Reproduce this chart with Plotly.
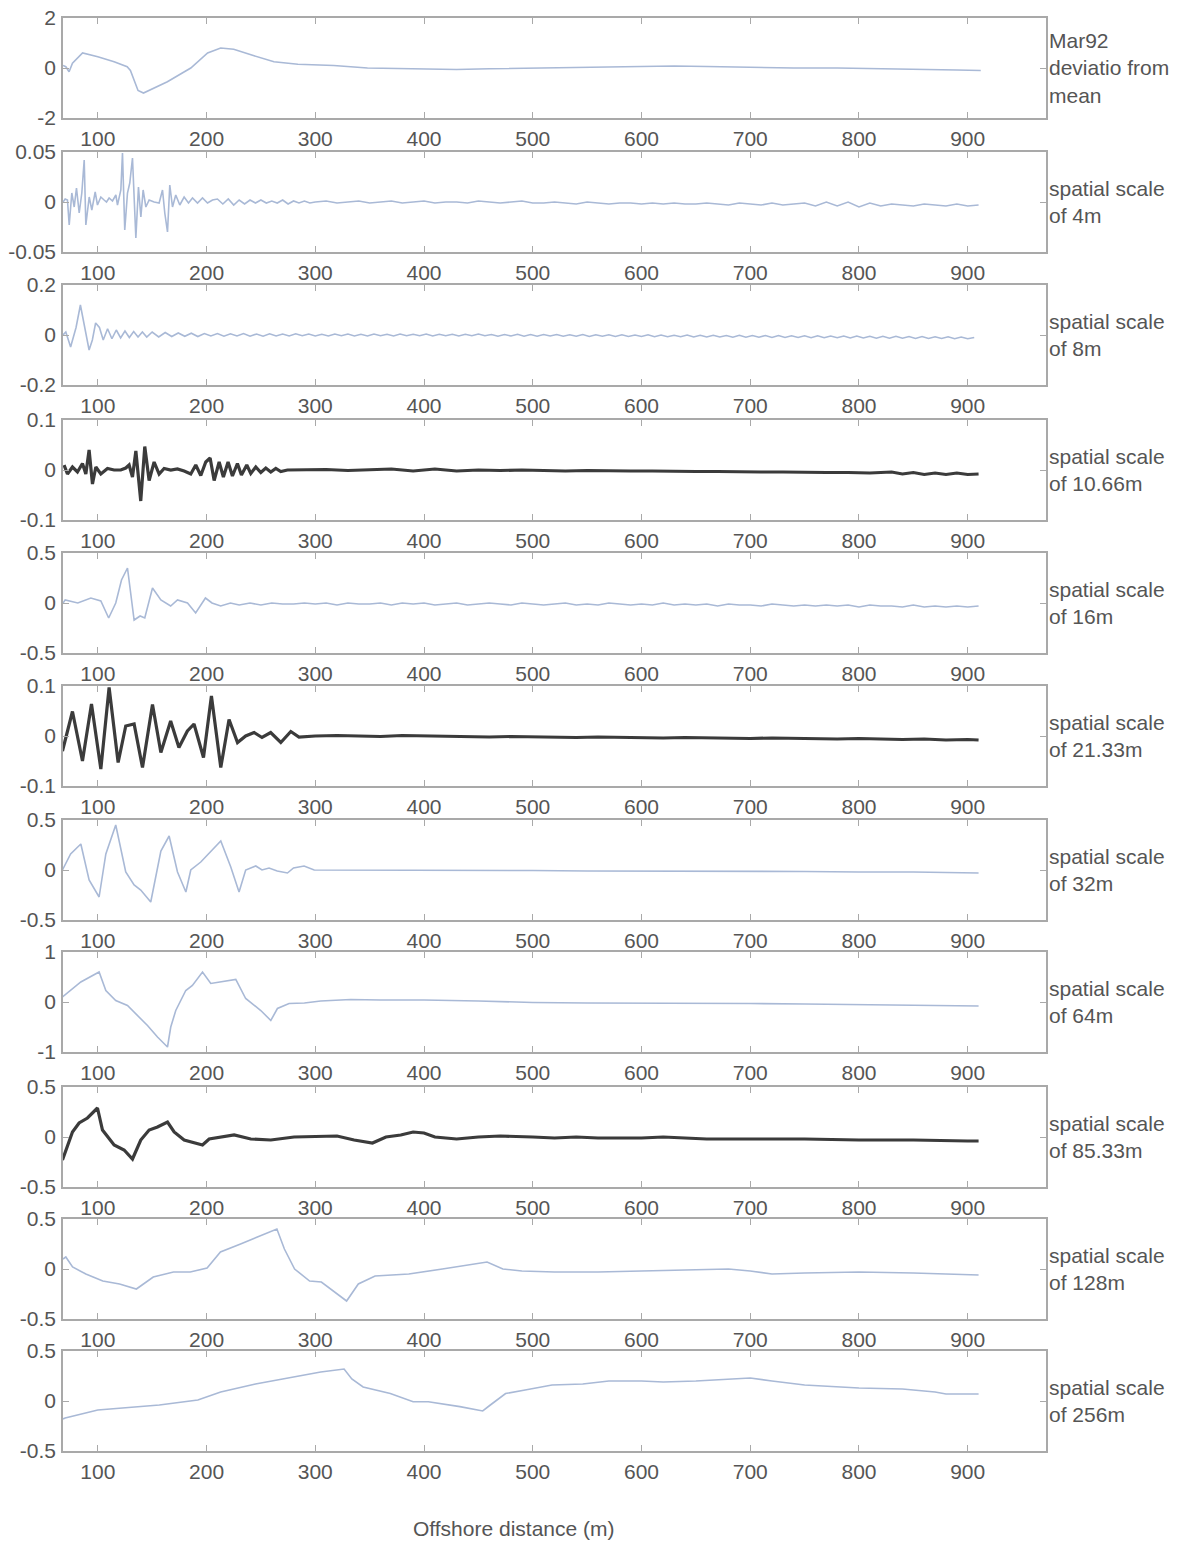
import plotly.graph_objects as go

# ---- Mar92 deviation from mean ----
dist_mar92 = [68, 70.6, 73.6, 76.7, 86, 100, 115, 127, 130, 137, 142, 164, 185.5, 201, 213, 225, 243, 262, 284,
              317, 348, 378, 400, 430, 460, 500, 530, 560, 600, 630, 660, 700, 740, 780, 820, 860, 890, 912]
dev_mar92 = [0.1, 0.05, -0.15, 0.19, 0.6, 0.45, 0.25, 0.05, -0.1, -0.9, -1.0, -0.55, 0.0, 0.6, 0.8, 0.75, 0.5, 0.25, 0.15,
             0.1, 0.0, -0.02, -0.06, -0.06, -0.03, 0.0, 0.02, 0.03, 0.06, 0.08, 0.06, 0.02, 0.0, 0.0, -0.02, -0.05, -0.08, -0.1]

# ---- spatial scale of 4 m ----
dist_4m = [68, 70, 72.1, 73.7, 76.1, 78.3, 80.4, 82.9, 85.3, 87.5, 89, 92.1, 94.5, 97.6, 99.7, 102.8, 105.8, 108,
           110.4, 113.5, 116.6, 118.1, 121.2, 122.7, 124.8, 127.3, 129.4, 131.9, 135, 137.4, 139.6, 141.7, 144.2,
           147.2, 151.8, 156.4, 159.5, 161.6, 164.1, 166.2, 168.7, 171.7, 175.4, 179.4, 183.4, 187.1, 191.7, 196.3,
           200.9, 205.5,
           210, 215, 220, 225, 230, 235, 240, 245, 250, 255, 260, 265, 270, 275, 280, 285, 290, 295, 300,
           310, 320, 330, 340, 350, 360, 370, 380, 390, 400, 410, 420, 430, 440, 450, 460, 470, 480, 490, 500,
           510, 520, 530, 540, 550, 560, 570, 580, 590, 600, 610, 620, 630, 640, 650, 660, 670, 680, 690, 700,
           710, 720, 730, 740, 750, 760, 770, 780, 790, 800, 810, 820, 830, 840, 850, 860, 870, 880, 890, 900, 910]
val_4m = [0.0, 0.003, 0.002, -0.023, 0.009, -0.005, 0.014, -0.011, 0.009, 0.042, -0.023, 0.005, -0.008, 0.010,
          -0.003, 0.005, 0.002, 0.0, 0.004, 0.001, 0.007, -0.003, 0.012, 0.049, -0.028, 0.009, 0.019, 0.044, -0.036,
          0.015, -0.015, 0.012, -0.005, 0.002, 0.0, -0.001, 0.012, -0.011, -0.030, 0.017, -0.005, 0.007, -0.003,
          0.005, -0.001, 0.004, -0.001, 0.004, -0.001, 0.002,
          0.003, -0.002, 0.003, -0.003, 0.002, -0.002, 0.002, -0.001, 0.002, -0.001, 0.001, -0.001, 0.002, -0.002,
          0.001, -0.001, 0.001, -0.001, 0.0,
          0.001, -0.001, 0.0, 0.001, -0.001, 0.0, 0.001, -0.001, 0.0, 0.001, -0.001, 0.0, 0.0, -0.001, 0.001, 0.0,
          -0.001, 0.0, 0.001, -0.001, -0.001, 0.0, -0.001, -0.002, 0.0, -0.001, -0.002, -0.001, -0.001, -0.002,
          -0.001, -0.002, -0.001, -0.002, -0.002, -0.001, -0.002, -0.003, -0.001, -0.002, -0.003, -0.001, -0.003,
          -0.002, -0.001, -0.004, 0.0, -0.004, 0.0, -0.005, -0.001, -0.004, -0.002, -0.003, -0.004, -0.002, -0.003,
          -0.004, -0.002, -0.004, -0.003]

# ---- spatial scale of 8 m ----
dist_8m = [68, 70.6, 75, 80, 84, 88, 92, 95, 98, 101.5, 105, 109, 113, 117, 121, 125, 129, 133, 137, 141, 145] + \
          list(range(150, 910, 6))
val_8m = [0.0, 0.012, -0.048, 0.03, 0.12, 0.03, -0.06, -0.02, 0.048, 0.03, -0.02, 0.025, -0.015, 0.02, -0.012,
          0.016, -0.01, 0.014, -0.008, 0.012, -0.008,
          0.012, -0.008, 0.010, -0.006, 0.008, -0.005, 0.007, -0.006, 0.006, -0.004, 0.006, -0.005, 0.005, -0.004,
          0.006, -0.005, 0.004, -0.005, 0.005, -0.004, 0.004, -0.004, 0.005, -0.003, 0.004, -0.004,
          0.003, -0.004, 0.004, -0.003, 0.004, -0.004, 0.003, -0.004, 0.004, -0.003, 0.003, -0.004, 0.004, -0.003,
          0.003, -0.003, 0.004, -0.004, 0.003, -0.003, 0.003, -0.004, 0.003, -0.003, 0.004, -0.003,
          0.002, -0.005, 0.002, -0.004, 0.003, -0.005, 0.002, -0.005, 0.002, -0.004, 0.002, -0.005, 0.001, -0.005,
          0.002, -0.006, 0.001, -0.005, 0.001, -0.006, 0.001, -0.006, 0.0, -0.006, 0.001,
          -0.007, 0.0, -0.007, -0.001, -0.007, 0.0, -0.008, -0.001, -0.008, -0.001, -0.008, -0.002, -0.009, -0.001,
          -0.009, -0.002, -0.009, -0.002, -0.010, -0.002, -0.010, -0.003, -0.010, -0.003, -0.011, -0.003, -0.011,
          -0.004, -0.011, -0.004, -0.012, -0.004, -0.012, -0.005, -0.013, -0.005, -0.013, -0.005, -0.013, -0.006,
          -0.014, -0.006, -0.014, -0.007, -0.014, -0.007, -0.015, -0.008, -0.015, -0.010]

# ---- spatial scale of 10.66 m ----
dist_10m = [69, 72.1, 76.7, 81.3, 85.9, 89, 92, 95.1, 98.2, 102.8, 108.9, 115, 121.1, 125.7, 128.8, 131.9, 135,
            139.5, 143.2, 147.2, 151.8, 156.4, 161, 167.1, 173.2, 179.4, 185.5, 190.1, 194.7, 199.3, 203.3, 207,
            211.6, 215.5, 219.8, 223.8, 228.4, 232.1, 237, 240.7, 245.3, 249.9, 254.5, 259.1, 263.7, 268.3, 274.4,
            290, 310, 330, 350, 370, 390, 410, 430, 450, 470, 490, 510, 530, 550, 570, 590, 610, 630, 650, 670,
            690, 710, 730, 750, 770, 790, 810, 830, 840, 850, 860, 870, 880, 890, 900, 910]
val_10m = [0.01, -0.008, 0.006, -0.004, 0.013, -0.008, 0.040, -0.028, 0.006, -0.008, 0.003, 0.0, 0.0, 0.004,
           0.010, -0.014, 0.038, -0.062, 0.047, -0.021, 0.016, -0.008, 0.003, 0.0, 0.002, -0.002, -0.008, 0.010,
           -0.011, 0.016, 0.024, -0.021, 0.016, -0.014, 0.016, -0.012, 0.013, -0.010, 0.010, -0.007, 0.006,
           -0.005, 0.004, -0.004, 0.003, -0.003, 0.0,
           0.0, 0.001, -0.001, 0.0, 0.002, -0.002, 0.002, -0.002, 0.0, -0.001, 0.0, -0.001, -0.002, -0.001,
           -0.002, -0.002, -0.002, -0.003, -0.003, -0.003, -0.004, -0.004, -0.004, -0.005, -0.005, -0.005,
           -0.006, -0.004, -0.008, -0.005, -0.009, -0.006, -0.009, -0.006, -0.009, -0.008]

# ---- spatial scale of 16 m ----
dist_16m = [68, 70, 81.6, 93.6, 102.8, 110, 116.5, 121.8, 127.3, 133.4, 138.9, 143.2, 150.3, 158, 167, 173.3,
            182.5, 190, 199, 205, 213, 222,
            230, 240, 250, 260, 270, 280, 290, 300, 310, 320, 330, 340, 350, 360, 370, 380, 390, 400, 410, 420,
            430, 440, 450, 460, 470, 480, 490, 500, 510, 520, 530, 540, 550, 560, 570, 580, 590, 600, 610, 620,
            630, 640, 650, 660, 670, 680, 690, 700, 710, 720, 730, 740, 750, 760, 770, 780, 790, 800, 810, 820,
            830, 840, 850, 860, 870, 880, 890, 900, 910]
val_16m = [0.0, 0.03, 0.0, 0.05, 0.02, -0.15, 0.0, 0.23, 0.35, -0.17, -0.13, -0.15, 0.15, 0.03, -0.03, 0.03,
           0.0, -0.1, 0.05, 0.0, -0.03, 0.0,
           -0.02, 0.0, -0.02, 0.0, -0.01, -0.01, 0.0, -0.01, 0.0, -0.02, 0.0, -0.01, -0.01, 0.0, -0.02, 0.0,
           -0.01, 0.0, -0.02, -0.01, 0.0, -0.02, -0.01, 0.0, -0.01, -0.02, 0.0, -0.01, -0.02, -0.01, 0.0,
           -0.02, -0.01, -0.02, 0.0, -0.01, -0.02, -0.01, -0.02, 0.0, -0.02, -0.01, -0.02, -0.01, -0.03, -0.01,
           -0.02, -0.02, -0.03, -0.01, -0.02, -0.03, -0.02, -0.03, -0.02, -0.03, -0.02, -0.04, -0.02, -0.03,
           -0.03, -0.04, -0.02, -0.04, -0.03, -0.04, -0.03, -0.04, -0.03]

# ---- spatial scale of 21.33 m ----
dist_21m = [67.5, 76.7, 85.9, 94.2, 102.8, 110.4, 118.7, 125.7, 133.4, 141.1, 150.3, 158, 167, 174.6, 182.4,
            188.5, 197.2, 204.5, 213.1, 220.7, 228.5, 236, 243.7, 251, 259, 268.3, 277.5, 285,
            300, 320, 340, 360, 380, 400, 420, 440, 460, 480, 500, 520, 540, 560, 580, 600, 620, 640, 660, 680,
            700, 720, 740, 760, 780, 800, 820, 840, 860, 880, 900, 910]
val_21m = [-0.03, 0.049, -0.05, 0.064, -0.066, 0.097, -0.053, 0.02, 0.024, -0.063, 0.063, -0.033, 0.03, -0.023,
           0.01, 0.024, -0.043, 0.08, -0.063, 0.033, -0.013, 0.0, 0.007, -0.003, 0.007, -0.013, 0.009, -0.002,
           0.0, 0.001, 0.0, -0.001, 0.001, 0.0, -0.001, -0.001, -0.002, -0.001, -0.002, -0.002, -0.003, -0.002,
           -0.003, -0.003, -0.004, -0.003, -0.004, -0.004, -0.005, -0.004, -0.005, -0.005, -0.006, -0.005,
           -0.006, -0.007, -0.006, -0.008, -0.007, -0.008]

# ---- spatial scale of 32 m ----
dist_32m = [67.5, 75, 84.4, 92, 101.2, 107.4, 116.5, 125.7, 133.4, 139.5, 148.7, 158, 165.6, 173.3, 181, 185.5,
            194.7, 213.1, 222.3, 229.9, 236, 245.3, 251, 257.5, 265, 274.4, 280, 289.7, 299,
            350, 400, 450, 500, 550, 600, 650, 700, 750, 800, 850, 910]
val_32m = [0.0, 0.16, 0.26, -0.1, -0.27, 0.16, 0.45, -0.02, -0.15, -0.2, -0.32, 0.19, 0.34, -0.02, -0.22, 0.0,
           0.08, 0.29, 0.03, -0.22, 0.0, 0.04, 0.0, 0.02, -0.01, -0.03, 0.02, 0.04, 0.0,
           0.0, 0.0, -0.005, -0.005, -0.01, -0.01, -0.01, -0.015, -0.015, -0.02, -0.02, -0.03]

# ---- spatial scale of 64 m ----
dist_64m = [67.5, 84.4, 101.2, 107.4, 116.5, 127.3, 145.7, 154.9, 164.1, 167.1, 171.7, 180.9, 187, 196.3, 203.9,
            213.1, 226.9, 236, 249.9, 259.1, 265.2, 275.9, 290, 305, 332.6, 360, 400, 450, 500, 550, 600, 650,
            700, 750, 800, 850, 910]
val_64m = [0.1, 0.4, 0.6, 0.23, 0.03, -0.07, -0.47, -0.7, -0.9, -0.5, -0.17, 0.23, 0.33, 0.6, 0.37, 0.4, 0.45,
           0.07, -0.17, -0.37, -0.13, -0.03, -0.02, 0.02, 0.05, 0.04, 0.04, 0.02, -0.01, -0.02, -0.02, -0.03,
           -0.03, -0.04, -0.05, -0.06, -0.08]

# ---- spatial scale of 85.33 m ----
dist_85m = [67.5, 72, 76.7, 82.8, 90.5, 99.7, 104.3, 115, 124.2, 131.9, 139.5, 147.2, 154.9, 164.1, 170.2, 179.4,
            187, 196.3, 202.4, 213, 225.4, 240.7, 259.1, 280.5, 305, 320, 335.7, 352.6, 365, 378.6, 390, 400,
            410, 430, 450, 470, 500, 520, 540, 560, 600, 620, 640, 660, 700, 750, 800, 850, 900, 910]
val_85m = [-0.23, -0.1, 0.05, 0.14, 0.19, 0.29, 0.07, -0.08, -0.13, -0.22, -0.03, 0.07, 0.1, 0.15, 0.05, -0.03,
           -0.05, -0.08, -0.02, 0.0, 0.02, -0.02, -0.03, 0.0, 0.01, 0.01, -0.03, -0.06, 0.0, 0.02, 0.05, 0.04,
           0.0, -0.02, 0.0, 0.01, 0.0, -0.01, 0.0, -0.01, -0.01, 0.0, -0.01, -0.02, -0.02, -0.02, -0.03, -0.03,
           -0.04, -0.04]

# ---- spatial scale of 128 m ----
dist_128m = [68, 70.6, 76.8, 89, 104.6, 120, 135.5, 144.8, 151, 169.6, 185, 200.5, 212.8, 231.3, 250, 264.7,
             271.6, 281, 294.8, 305.6, 328.8, 339.6, 355, 386, 416.9, 454, 458, 472.5, 490, 520, 560, 600, 650,
             680, 700, 720, 750, 800, 850, 880, 910]
val_128m = [0.1, 0.12, 0.02, -0.05, -0.12, -0.15, -0.2, -0.13, -0.08, -0.03, -0.03, 0.01, 0.17, 0.25, 0.33,
            0.4, 0.2, 0.0, -0.12, -0.13, -0.32, -0.15, -0.07, -0.05, 0.0, 0.07, 0.07, 0.0, -0.02, -0.03, -0.03,
            -0.02, -0.01, 0.0, -0.02, -0.05, -0.04, -0.03, -0.04, -0.05, -0.06]

# ---- spatial scale of 256 m ----
dist_256m = [68, 70, 100, 121, 156.6, 192, 213, 245, 280.5, 305, 326.5, 333.6, 344, 369, 390, 404, 433, 454, 461,
             475, 493, 517.7, 546, 570, 600, 620, 650, 680, 700, 720, 750, 800, 840, 870, 880, 910]
val_256m = [-0.18, -0.17, -0.09, -0.07, -0.04, 0.01, 0.09, 0.17, 0.24, 0.29, 0.32, 0.22, 0.14, 0.075, -0.007,
            -0.007, -0.056, -0.1, -0.04, 0.075, 0.11, 0.16, 0.17, 0.2, 0.2, 0.19, 0.2, 0.22, 0.23, 0.2, 0.16,
            0.13, 0.12, 0.09, 0.07, 0.07]

# ---- panel definitions ----
panel_labels = ["Mar92<br>deviatio from<br>mean", "spatial scale<br>of 4m", "spatial scale<br>of 8m",
                "spatial scale<br>of 10.66m", "spatial scale<br>of 16m", "spatial scale<br>of 21.33m",
                "spatial scale<br>of 32m", "spatial scale<br>of 64m", "spatial scale<br>of 85.33m",
                "spatial scale<br>of 128m", "spatial scale<br>of 256m"]
y_limits = [2, 0.05, 0.2, 0.1, 0.5, 0.1, 0.5, 1, 0.5, 0.5, 0.5]
y_limit_text = ["2", "0.05", "0.2", "0.1", "0.5", "0.1", "0.5", "1", "0.5", "0.5", "0.5"]
series = [(dist_mar92, dev_mar92), (dist_4m, val_4m), (dist_8m, val_8m), (dist_10m, val_10m),
          (dist_16m, val_16m), (dist_21m, val_21m), (dist_32m, val_32m), (dist_64m, val_64m),
          (dist_85m, val_85m), (dist_128m, val_128m), (dist_256m, val_256m)]
dark_panels = {3, 5, 8}
x_ticks = [100, 200, 300, 400, 500, 600, 700, 800, 900]

W, H = 1187, 1543
panel_top_px = [18, 152, 285, 420, 553, 686, 820, 952, 1087, 1219, 1351]
panel_h_px = 100
frame_left_px, frame_right_px = 63, 1046

LIGHT = "#a9b9d6"
DARK = "#3b3b3b"
FRAME = "#a9a9a9"
TEXT = "#555555"
FONT = "Liberation Sans, Arial, sans-serif"
FS = 21

fig = go.Figure()
layout = dict(
    width=W, height=H, autosize=False,
    margin=dict(l=0, r=0, t=0, b=0, pad=0, autoexpand=False),
    paper_bgcolor="white", plot_bgcolor="white", showlegend=False,
    font=dict(family=FONT, size=FS, color=TEXT),
)
annotations = []
for i, ((xs, ys), lim) in enumerate(zip(series, y_limits)):
    n = i + 1
    xa = "x" if n == 1 else f"x{n}"
    ya = "y" if n == 1 else f"y{n}"
    dark = i in dark_panels
    fig.add_trace(go.Scatter(
        x=xs, y=ys, mode="lines", xaxis=xa, yaxis=ya,
        line=dict(color=DARK if dark else LIGHT, width=3.2 if dark else 1.6),
        hoverinfo="skip",
    ))
    top = 1 - panel_top_px[i] / H
    bot = 1 - (panel_top_px[i] + panel_h_px) / H
    common = dict(showline=True, linecolor=FRAME, linewidth=1.5, mirror="allticks", ticks="inside",
                  ticklen=6, tickcolor=FRAME, tickwidth=1.2, showgrid=False, zeroline=False,
                  automargin=False, tickfont=dict(family=FONT, size=FS, color=TEXT))
    layout["xaxis" if n == 1 else f"xaxis{n}"] = dict(
        common, domain=[frame_left_px / W, frame_right_px / W], anchor=ya, range=[68, 972],
        tickmode="array", tickvals=x_ticks, ticktext=[str(v) for v in x_ticks], ticklabelstandoff=1,
    )
    layout["yaxis" if n == 1 else f"yaxis{n}"] = dict(
        common, domain=[bot, top], anchor=xa, range=[-lim, lim],
        tickmode="array", tickvals=[-lim, 0, lim],
        ticktext=["-" + y_limit_text[i], "0", y_limit_text[i]], ticklabelstandoff=1,
    )
    annotations.append(dict(
        xref="paper", yref="paper", x=1047 / W, y=(top + bot) / 2,
        xanchor="left", yanchor="middle", align="left", showarrow=False,
        text=panel_labels[i], font=dict(family=FONT, size=FS, color=TEXT),
    ))

annotations.append(dict(
    xref="paper", yref="paper", x=514 / W, y=1 - 1528 / H, xanchor="center", yanchor="middle",
    showarrow=False, text="Offshore distance (m)", font=dict(family=FONT, size=21, color=TEXT),
))
layout["annotations"] = annotations
fig.update_layout(**layout)
fig.write_html("out.html")
